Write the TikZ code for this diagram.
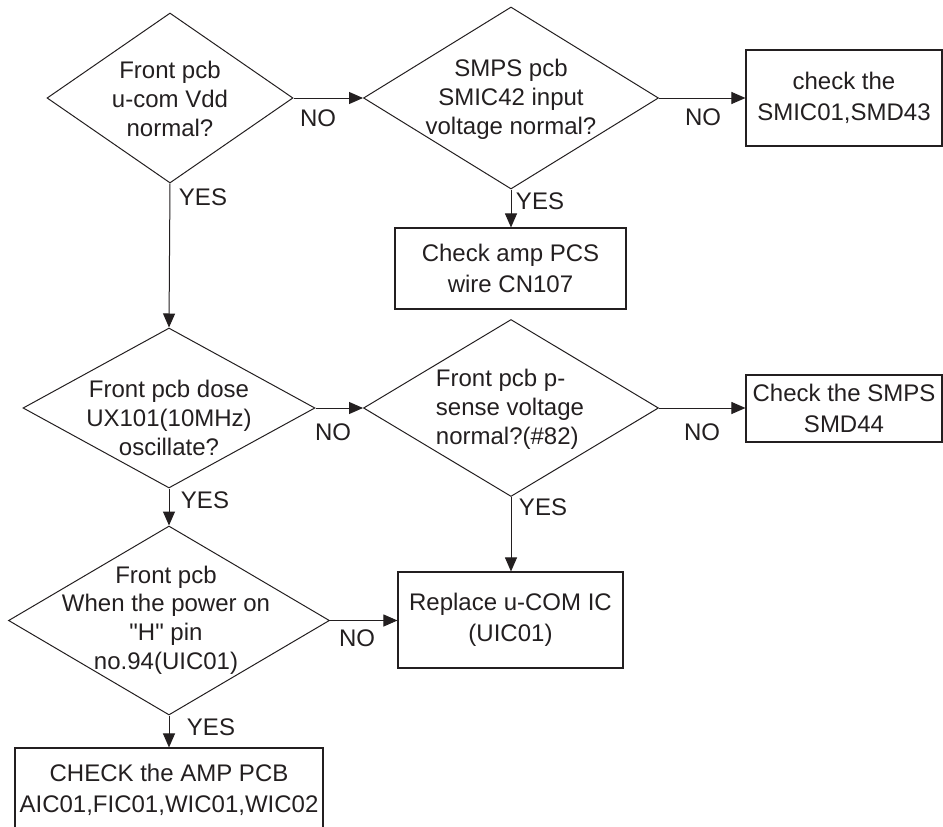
\documentclass[tikz,border=0pt]{standalone}
\usepackage{fontspec}
\setmainfont{Liberation Sans}
\usetikzlibrary{shapes.geometric,arrows.meta}
\definecolor{ink}{RGB}{35,31,32}
\begin{document}
\begin{tikzpicture}[x=1pt,y=-1pt,
  every node/.style={text=ink},
  txt/.style={font=\fontsize{24}{28.8}\selectfont, align=center, inner sep=0pt},
  lbl/.style={font=\fontsize{24}{28.8}\selectfont, inner sep=0pt},
  dia/.style={draw=ink, line width=1pt, diamond, inner sep=0pt},
  boxnode/.style={draw=ink, line width=1.1pt, rectangle, inner sep=0pt,
    font=\fontsize{24}{30.5}\selectfont, align=center},
  flow/.style={draw=ink, line width=1pt, -{Triangle[length=14pt,width=12pt]}}
]
\useasboundingbox (0,0) rectangle (943,827);

% decision diamonds
\node[dia, minimum width=246pt, minimum height=170pt] (d1) at (170,98) {};
\node[dia, minimum width=295pt, minimum height=182pt] (d2) at (511,98) {};
\node[dia, minimum width=292pt, minimum height=160pt] (d3) at (169,408) {};
\node[dia, minimum width=295pt, minimum height=177pt] (d4) at (511,408) {};
\node[dia, minimum width=321pt, minimum height=189pt] (d5) at (169,620.5) {};

% diamond texts
\node[txt] (t1) at (170,99) {Front pcb\\u-com Vdd\\normal?};
\node[txt] (t2) at (511,99) {SMPS pcb\\SMIC42 input\\voltage normal?};
\node[txt] (t3) at (169,418) {Front pcb dose\\UX101(10MHz)\\oscillate?};
\node[txt, align=left] (t4) at (510,409) {Front pcb p-\\sense voltage\\normal?(\#82)};
\node[txt] (t5) at (166,620) {Front pcb\\When the power on\\\textquotedbl H\textquotedbl{} pin\\no.94(UIC01)};

% action boxes
\node[boxnode, minimum width=196pt, minimum height=96pt] (b1) at (844,98) {check the\\SMIC01,SMD43};
\node[boxnode, minimum width=231pt, minimum height=81pt] (b2) at (510.5,268.5) {Check amp PCS\\wire CN107};
\node[boxnode, minimum width=196pt, minimum height=67pt] (b3) at (844,408.5) {Check the SMPS\\SMD44};
\node[boxnode, minimum width=225pt, minimum height=96pt] (b4) at (510.5,620) {Replace u-COM IC\\(UIC01)};
\node[boxnode, minimum width=308pt, minimum height=84pt] (b5) at (169,790) {CHECK the AMP PCB\\AIC01,FIC01,WIC01,WIC02};

% connectors
\draw[flow] (d1.east) -- (d2.west);
\draw[flow] (d2.east) -- (d2.east -| b1.west);
\draw[flow] (d2.south) -- (d2.south |- b2.north);
\draw[flow] (d1.south) -- (d3.north);
\draw[flow] (d3.east) -- (d4.west);
\draw[flow] (d4.east) -- (d4.east -| b3.west);
\draw[flow] (d4.south) -- (d4.south |- b4.north);
\draw[flow] (d3.south) -- (d5.north);
\draw[flow] (d5.east) -- (d5.east -| b4.west);
\draw[flow] (d5.south) -- (d5.south |- b5.north);

% labels
\node[lbl] (n1) at (318,118) {NO};
\node[lbl] (y1) at (203,197) {YES};
\node[lbl] (n2) at (703,117) {NO};
\node[lbl] (y2) at (540,201) {YES};
\node[lbl] (n3) at (333,432) {NO};
\node[lbl] (y3) at (205,500) {YES};
\node[lbl] (n4) at (702,432) {NO};
\node[lbl] (y4) at (543,507) {YES};
\node[lbl] (n5) at (357,638) {NO};
\node[lbl] (y5) at (211,727) {YES};
\end{tikzpicture}
\end{document}
